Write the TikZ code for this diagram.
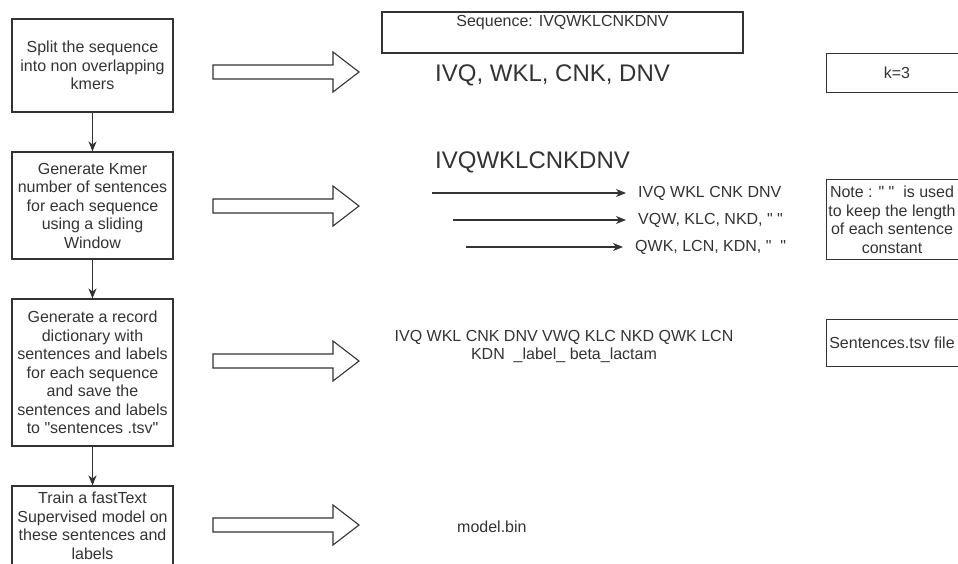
\documentclass[tikz,border=0pt]{standalone}
\usepackage{fontspec}
\setmainfont{Liberation Sans}[Ligatures=TeXOff]
\usetikzlibrary{arrows.meta}
\definecolor{ink}{HTML}{333333}
\begin{document}
\begin{tikzpicture}[x=1pt,y=-1pt,
  every node/.style={text=ink,font=\fontsize{16}{18.5}\selectfont},
  stepbox/.style={draw=ink,line width=1.1pt,minimum width=161pt,inner sep=0pt,align=center},
  sidebox/.style={draw=ink,line width=1.1pt,minimum width=150pt,inner sep=0pt,anchor=north west},
  plain/.style={inner sep=0pt,align=center},
  big/.style={inner sep=0pt,font=\fontsize{24}{28}\selectfont},
  flow/.style={draw=ink,line width=1.1pt,-{Stealth[length=10pt,width=8pt,inset=3pt]}},
  pics/blockarrow/.style={code={
    \draw[ink,line width=1.1pt,fill=white]
      (0,-7) -- (120,-7) -- (120,-20) -- (146,0) -- (120,20) -- (120,7) -- (0,7) -- cycle;}}
]
\useasboundingbox (0,0) rectangle (958,563);
\clip (0,0) rectangle (958,563);

% process steps
\node[stepbox,minimum height=93pt]  (s1) at (92.5,65.5)
  {Split the sequence\\into non overlapping\\kmers};
\node[stepbox,minimum height=107pt] (s2) at (92.5,205.5)
  {Generate Kmer\\number of sentences\\for each sequence\\using a sliding\\Window};
\node[stepbox,minimum height=147pt] (s3) at (92.5,372.5)
  {Generate a record\\dictionary with\\sentences and labels\\for each sequence\\and save the\\sentences and labels\\to "sentences .tsv"};
\node[stepbox,minimum height=80pt]  (s4) at (92.5,526)
  {Train a fastText\\Supervised model on\\these sentences and\\labels};

\draw[flow] (s1) -- (s2);
\draw[flow] (s2) -- (s3);
\draw[flow] (s3) -- (s4);

% block arrows from each step to its result
\pic at (213,72)  {blockarrow};
\pic at (213,206) {blockarrow};
\pic at (213,361) {blockarrow};
\pic at (213,525) {blockarrow};

% step 1: splitting
\node[draw=ink,line width=1.1pt,minimum width=361pt,minimum height=41pt,inner sep=0pt]
  (seq) at (562.5,32.5) {};
\node[plain,anchor=north] (seqtxt) at ([yshift=-4pt]seq.north) {Sequence: IVQWKLCNKDNV};
\node[big,anchor=west] (kmers) at (435,75) {IVQ, WKL, CNK, DNV};

% step 2: sliding window sentences
\node[big,anchor=west] (whole) at (435,162) {IVQWKLCNKDNV};
\node[plain,anchor=west] (w1) at (638,193) {IVQ WKL CNK DNV};
\node[plain,anchor=west] (w2) at (638,220) {VQW, KLC, NKD, " "};
\node[plain,anchor=west] (w3) at (635,247) {QWK, LCN, KDN, "\ \ "};
\coordinate (c1) at (432,193);
\coordinate (c2) at (453,220);
\coordinate (c3) at (466,247);
\draw[flow,shorten >=12pt] (c1) -- (w1.west);
\draw[flow,shorten >=12pt] (c2) -- (w2.west);
\draw[flow,shorten >=12pt] (c3) -- (w3.west);

% step 3: record
\node[plain] (rec) at (564,346.5)
  {IVQ WKL CNK DNV VWQ KLC NKD QWK LCN\\KDN\ \ \_label\_ beta\_lactam};

% step 4: model
\node[plain,anchor=west] (model) at (457,527) {model.bin};

% side notes
\node[sidebox,minimum height=39pt] (kbox) at (826,53) {};
\node[plain] (ktxt) at (897,73) {k=3};
\node[sidebox,minimum height=80pt] (nbox) at (826,179) {};
\node[plain] (ntxt) at (892,220)
  {Note : " "\ \ is used\\to keep the length\\of each sentence\\constant};
\node[sidebox,minimum height=47pt] (tbox) at (826,319) {};
\node[plain] (ttxt) at (892,343) {Sentences.tsv file};
\end{tikzpicture}
\end{document}
